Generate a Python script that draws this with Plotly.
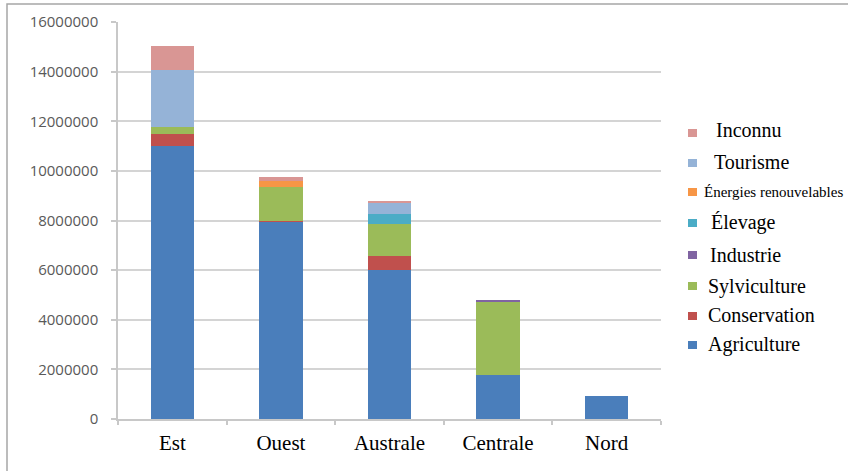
import plotly.graph_objects as go

# Régions (catégories de l'axe horizontal)
regions = ["Est", "Ouest", "Australe", "Centrale", "Nord"]

# Surfaces par usage et par région
agriculture = [11000000, 7950000, 6000000, 1780000, 930000]
conservation = [500000, 50000, 550000, 0, 0]
sylviculture = [250000, 1350000, 1300000, 2970000, 0]
industrie = [0, 0, 0, 50000, 0]
elevage = [0, 0, 420000, 0, 0]
energies = [0, 250000, 0, 0, 0]
tourisme = [2300000, 0, 470000, 0, 0]
inconnu = [1000000, 150000, 50000, 0, 0]

series_names = ["Agriculture", "Conservation", "Sylviculture", "Industrie",
                "Élevage", "Énergies renouvelables", "Tourisme", "Inconnu"]
series_values = [agriculture, conservation, sylviculture, industrie,
                 elevage, energies, tourisme, inconnu]
series_colors = ["#4A7EBB", "#C0504D", "#9BBB59", "#8064A2",
                 "#4BACC6", "#F79646", "#95B3D7", "#D99694"]

y_ticks = [0, 2000000, 4000000, 6000000, 8000000, 10000000, 12000000, 14000000, 16000000]

W, H = 848, 471
L, R, T, B = 118, 661, 22, 419  # plot area in pixels


def px(x):
    return (x - L) / (R - L)


def py(y):
    return (B - y) / (B - T)


fig = go.Figure()
for name, vals, col in zip(series_names, series_values, series_colors):
    fig.add_trace(go.Bar(
        x=regions, y=vals, name=name, width=0.4,
        marker=dict(color=col, line=dict(width=0)),
        showlegend=False,
    ))

# Légende dessinée à droite : carré de couleur + libellé
legend_rows = [
    # name, square center y, text x, text center y, font size, colour
    ("Inconnu", 133, 714, 130, 20, "#D99694"),
    ("Tourisme", 163, 712, 162, 20, "#95B3D7"),
    ("Énergies renouvelables", 192, 702, 192, 15, "#F79646"),
    ("Élevage", 223, 709, 222, 20, "#4BACC6"),
    ("Industrie", 255, 708, 255, 20, "#8064A2"),
    ("Sylviculture", 286, 706, 286, 20, "#9BBB59"),
    ("Conservation", 316, 706, 315, 20, "#C0504D"),
    ("Agriculture", 345, 706, 344, 20, "#4A7EBB"),
]

shapes = []
annotations = []
for label, sy, tx, ty, fs, col in legend_rows:
    shapes.append(dict(
        type="rect", xref="paper", yref="paper",
        x0=px(688), x1=px(697), y0=py(sy + 4), y1=py(sy - 4),
        fillcolor=col, line=dict(width=0), layer="above",
    ))
    annotations.append(dict(
        text=label, xref="paper", yref="paper",
        x=px(tx), y=py(ty), xanchor="left", yanchor="middle",
        showarrow=False,
        font=dict(family="Liberation Serif", size=fs, color="#000000"),
    ))

# Cadre extérieur du graphique
shapes.append(dict(
    type="rect", xref="paper", yref="paper",
    x0=px(7), x1=px(880), y0=py(500), y1=py(4),
    fillcolor="rgba(0,0,0,0)", line=dict(color="#A6A6A6", width=1.5),
    layer="below",
))

fig.update_layout(
    width=W, height=H,
    margin=dict(l=L, r=W - R, t=T, b=H - B, pad=0),
    barmode="stack",
    bargap=0.6,
    plot_bgcolor="#FFFFFF",
    paper_bgcolor="#FFFFFF",
    shapes=shapes,
    annotations=annotations,
    showlegend=False,
)

fig.update_xaxes(
    showline=True, linecolor="#C8C8C8", linewidth=1.5,
    ticks="outside", tickson="boundaries", ticklen=4, tickcolor="#C8C8C8", tickwidth=1.5,
    tickfont=dict(family="Liberation Serif", size=21, color="#000000"),
    ticklabelstandoff=4,
    showgrid=False,
)
fig.update_yaxes(
    range=[0, 16000000], tickvals=y_ticks, tickformat="d",
    showline=True, linecolor="#C8C8C8", linewidth=1.5,
    ticks="outside", ticklen=5, tickcolor="#C8C8C8", tickwidth=1.5,
    showgrid=True, gridcolor="#D4D4D4", gridwidth=1.5,
    zeroline=False,
    tickfont=dict(family="Open Sans", size=15, color="#595959"),
    ticklabelstandoff=10,
)

fig.write_html("out.html")
